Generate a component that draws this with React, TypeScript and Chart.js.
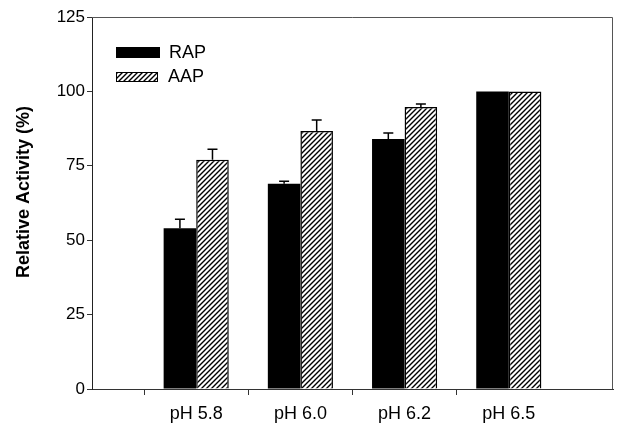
import { useEffect, useRef } from 'react';
import { Chart, registerables } from 'chart.js';

Chart.register(...registerables);

const categories = ['', 'pH 5.8', 'pH 6.0', 'pH 6.2', 'pH 6.5', ''];
const rapValues = [null, 54, 69, 84, 100, null];
const rapErrors = [null, 3, 0.8, 2, 0, null];
const aapValues = [null, 77, 86.7, 94.8, 100, null];
const aapErrors = [null, 3.6, 3.7, 1, 0, null];
const seriesNames = ['RAP', 'AAP'];
const yTitle = 'Relative Activity (%)';

const FONT = '"Liberation Sans", Arial, sans-serif';

function makeHatch(): CanvasPattern | string {
  const c = document.createElement('canvas');
  c.width = 5;
  c.height = 5;
  const ctx = c.getContext('2d');
  if (!ctx) return '#888';
  ctx.fillStyle = '#fff';
  ctx.fillRect(0, 0, 5, 5);
  ctx.strokeStyle = '#000';
  ctx.lineWidth = 1.4;
  ctx.beginPath();
  ctx.moveTo(-1, 6);
  ctx.lineTo(6, -1);
  ctx.moveTo(-1, 1);
  ctx.lineTo(1, -1);
  ctx.moveTo(4, 6);
  ctx.lineTo(6, 4);
  ctx.stroke();
  return ctx.createPattern(c, 'repeat') || '#888';
}

export default function App() {
  const ref = useRef<HTMLCanvasElement | null>(null);

  useEffect(() => {
    document.body.style.margin = '0';
    const canvas = ref.current;
    if (!canvas) return;
    const hatch = makeHatch();

    const extras = {
      id: 'extras',
      afterDatasetsDraw(chart: any) {
        const ctx = chart.ctx;
        const y = chart.scales.y;
        const sets: [number, (number | null)[], (number | null)[]][] = [
          [0, rapValues, rapErrors],
          [1, aapValues, aapErrors],
        ];
        ctx.save();
        ctx.strokeStyle = '#000';
        ctx.lineWidth = 1.5;
        sets.forEach(([di, vals, errs]) => {
          const meta = chart.getDatasetMeta(di);
          meta.data.forEach((bar: any, i: number) => {
            const v = vals[i];
            const e = errs[i];
            if (v == null || !e) return;
            const top = y.getPixelForValue(v + e);
            const base = y.getPixelForValue(v);
            ctx.beginPath();
            ctx.moveTo(bar.x, base);
            ctx.lineTo(bar.x, top);
            ctx.moveTo(bar.x - 5, top);
            ctx.lineTo(bar.x + 5, top);
            ctx.stroke();
          });
        });
        ctx.restore();
      },
      afterDraw(chart: any) {
        const ctx = chart.ctx;
        const a = chart.chartArea;
        ctx.save();
        // frame top and right
        ctx.strokeStyle = '#555';
        ctx.lineWidth = 1;
        ctx.beginPath();
        ctx.moveTo(a.left, a.top + 0.5);
        ctx.lineTo(a.right - 0.5, a.top + 0.5);
        ctx.lineTo(a.right - 0.5, a.bottom);
        ctx.stroke();

        // legend
        const lx = a.left + 24;
        ctx.fillStyle = '#000';
        ctx.fillRect(lx, a.top + 30, 44, 11);
        ctx.fillStyle = hatch as any;
        ctx.fillRect(lx, a.top + 55, 42, 10);
        ctx.strokeStyle = '#000';
        ctx.lineWidth = 1;
        ctx.strokeRect(lx + 0.5, a.top + 55.5, 41, 9);
        ctx.fillStyle = '#000';
        ctx.font = `18px ${FONT}`;
        ctx.textBaseline = 'middle';
        ctx.textAlign = 'left';
        ctx.fillText(seriesNames[0], lx + 53, a.top + 36);
        ctx.fillText(seriesNames[1], lx + 52, a.top + 60.5);

        // y title
        ctx.font = `bold 18px ${FONT}`;
        ctx.textAlign = 'center';
        ctx.textBaseline = 'middle';
        ctx.translate(24, 192);
        ctx.rotate(-Math.PI / 2);
        ctx.fillText(yTitle, 0, 0);
        ctx.restore();
      },
    };

    const chart = new Chart(canvas, {
      type: 'bar',
      data: {
        labels: categories,
        datasets: [
          {
            label: seriesNames[0],
            data: rapValues as any,
            backgroundColor: '#000',
            borderColor: '#000',
            borderWidth: 0,
          },
          {
            label: seriesNames[1],
            data: aapValues as any,
            backgroundColor: hatch as any,
            borderColor: '#000',
            borderWidth: 1.5,
          },
        ],
      },
      options: {
        responsive: false,
        animation: false,
        devicePixelRatio: 1,
        layout: { padding: { top: 17, right: 1, left: 0, bottom: 0 } },
        datasets: { bar: { categoryPercentage: 0.625, barPercentage: 1 } },
        plugins: { legend: { display: false }, tooltip: { enabled: false } },
        scales: {
          x: {
            type: 'category',
            offset: false,
            grid: {
              drawOnChartArea: false,
              drawTicks: true,
              tickLength: 6,
              tickColor: (c: any) => (c.index === 0 || c.index === categories.length - 1 ? 'rgba(0,0,0,0)' : '#333'),
            },
            border: { color: '#333', width: 1 },
            ticks: { font: { size: 18, family: FONT }, color: '#000', padding: 8, autoSkip: false, maxRotation: 0 },
            afterFit: (s: any) => {
              s.height = 35;
            },
          },
          y: {
            min: 0,
            max: 125,
            ticks: { stepSize: 25, font: { size: 17, family: FONT }, color: '#000', padding: 2 },
            grid: { drawOnChartArea: false, tickLength: 5, color: '#333' },
            border: { color: '#222', width: 1 },
            afterFit: (s: any) => {
              s.width = 92;
            },
          },
        },
      },
      plugins: [extras],
    });

    return () => chart.destroy();
  }, []);

  return (
    <div style={{ width: 621, height: 424 }}>
      <canvas ref={ref} width={621} height={424} />
    </div>
  );
}
